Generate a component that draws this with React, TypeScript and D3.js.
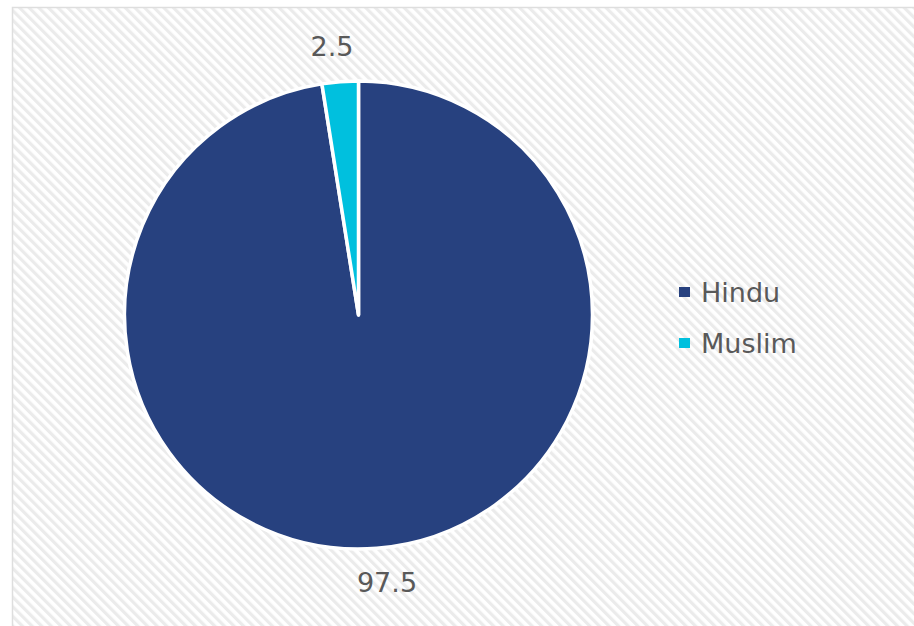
import React from "react";
import * as d3 from "d3";

const categories = ["Hindu", "Muslim"];
const values = [97.5, 2.5];
const valueLabels = ["97.5", "2.5"];
const colors = ["#27417f", "#00c0de"];

const W = 914;
const H = 626;

export default function App() {
  const cx = 358.5;
  const cy = 315;
  const r = 234;
  const pie = d3.pie<number>().sort(null).value((d) => d);
  const arcs = pie(values);
  const arc = d3.arc<d3.PieArcDatum<number>>().innerRadius(0).outerRadius(r);
  const colorScale = d3.scaleOrdinal<string, string>().domain(categories).range(colors);
  const font = "'DejaVu Sans', Verdana, sans-serif";

  return (
    <svg width={W} height={H} style={{ position: "absolute", left: 0, top: 0 }}>
      <defs>
        <pattern id="stripes" width="6.8" height="6.8" patternUnits="userSpaceOnUse" patternTransform="rotate(-45)">
          <rect width="6.8" height="6.8" fill="#ffffff" />
          <rect width="3.2" height="6.8" fill="#ebebeb" />
        </pattern>
      </defs>
      <rect x={0} y={0} width={W} height={H} fill="#ffffff" />
      <rect x={12.5} y={7.5} width={W} height={H} fill="url(#stripes)" stroke="#dedede" strokeWidth={1.5} />
      <g transform={`translate(${cx},${cy})`}>
        {arcs.map((a, i) => (
          <path key={categories[i]} d={arc(a) || ""} fill={colorScale(categories[i])} stroke="#ffffff" strokeWidth={3.5} strokeLinejoin="round" />
        ))}
      </g>
      {/* data labels */}
      <text x={387} y={592} textAnchor="middle" fontFamily={font} fontSize={27} fill="#595959">
        {valueLabels[0]}
      </text>
      <text x={332} y={56} textAnchor="middle" fontFamily={font} fontSize={27} fill="#595959">
        {valueLabels[1]}
      </text>
      {/* legend */}
      {categories.map((c, i) => (
        <g key={c} transform={`translate(679,${i * 51})`}>
          <rect x={0} y={287} width={11} height={10} fill={colorScale(c)} />
          <text x={22} y={302} fontFamily={font} fontSize={27} fill="#595959">
            {c}
          </text>
        </g>
      ))}
    </svg>
  );
}
